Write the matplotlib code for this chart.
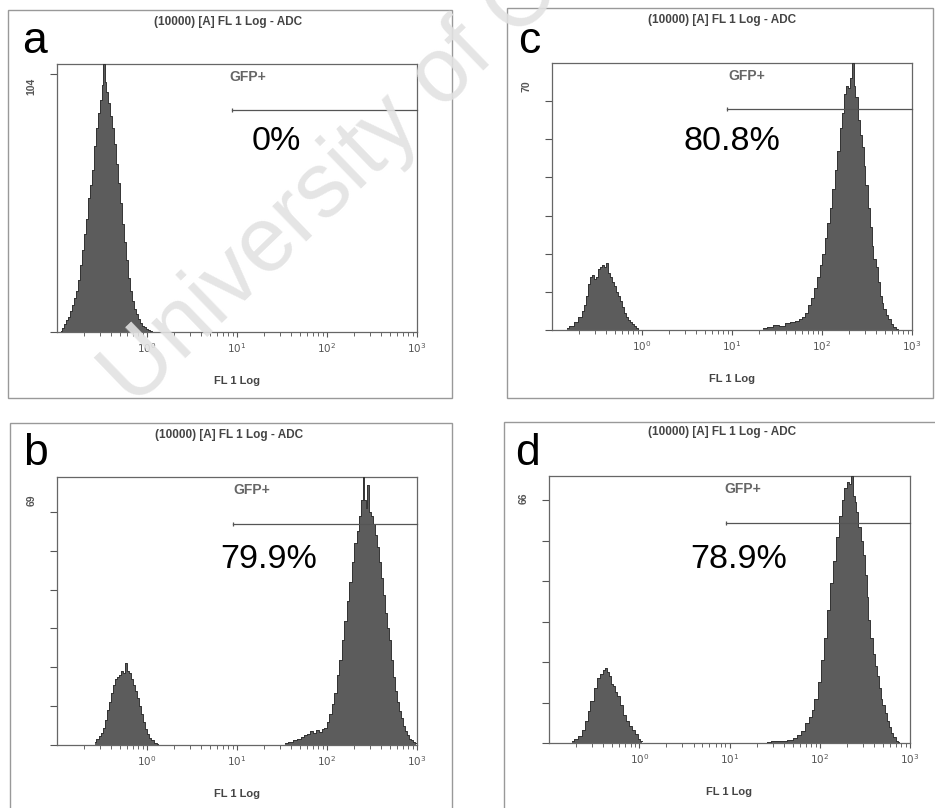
import numpy as np
import matplotlib
matplotlib.use('Agg')
import matplotlib.pyplot as plt
from matplotlib.patches import Rectangle
from matplotlib.ticker import FixedLocator, LogLocator, NullFormatter

plt.rcParams['font.family'] = ['Liberation Sans', 'DejaVu Sans']

# ---- histogram data (log10 FL1 channel, event count) ----
a_neg_log = [-0.956, -0.933, -0.911, -0.889, -0.867, -0.844, -0.822, -0.800, -0.778, -0.756,
             -0.733, -0.711, -0.689, -0.667, -0.644, -0.622, -0.600, -0.578, -0.556, -0.533,
             -0.511, -0.494, -0.478, -0.461, -0.444, -0.422, -0.400, -0.378, -0.356, -0.333,
             -0.311, -0.289, -0.267, -0.244, -0.222, -0.200, -0.178, -0.156, -0.133, -0.111,
             -0.089, -0.067, -0.044, -0.022, 0.000, 0.022, 0.044, 0.067]
a_neg_count = [0.5, 1.5, 3, 4.5, 6, 8, 10.5, 13, 16, 20,
               26, 32, 38, 44, 52, 57, 63, 72, 79, 85,
               90, 96, 104, 97, 93, 89, 84, 79, 73, 65,
               58, 50, 42, 35, 28, 21, 16, 12, 9, 7,
               5, 3.5, 2.5, 2, 1.2, 0.6, 0.3, 0]

b_neg_log = [-0.578, -0.550, -0.522, -0.500, -0.478, -0.456, -0.433, -0.411, -0.389, -0.367,
             -0.344, -0.322, -0.300, -0.278, -0.256, -0.233, -0.211, -0.189, -0.167, -0.144,
             -0.122, -0.100, -0.078, -0.056, -0.033, -0.011, 0.011, 0.033, 0.056, 0.089, 0.122]
b_neg_count = [0.8, 1.5, 2.2, 3, 4.5, 6.5, 9, 11, 13.5, 15.5,
               17, 17.5, 18, 19, 18.5, 21, 19, 18.5, 17, 15.5,
               14, 12, 10, 8, 6, 4, 2.8, 1.8, 1.2, 0.6, 0.3]
b_pos_log = [1.533, 1.589, 1.644, 1.689, 1.722, 1.756, 1.789, 1.822, 1.856, 1.889,
             1.922, 1.956, 1.983, 2.011, 2.039, 2.067, 2.094, 2.122, 2.150, 2.178,
             2.206, 2.233, 2.261, 2.289, 2.317, 2.344, 2.367, 2.389, 2.406, 2.422,
             2.439, 2.458, 2.478, 2.500, 2.522, 2.544, 2.567, 2.589, 2.611, 2.633,
             2.656, 2.678, 2.700, 2.722, 2.744, 2.767, 2.789, 2.811, 2.833, 2.856,
             2.878, 2.900, 2.922, 2.944, 2.967, 2.994]
b_pos_count = [0.4, 0.8, 1.2, 1.6, 2.0, 2.5, 2.9, 3.6, 3.0, 3.8,
               3.3, 4.1, 4.5, 5.8, 8, 10.5, 13.5, 18, 22, 27,
               32, 37, 42, 47, 52, 55, 59, 63, 69, 63,
               61, 67, 60, 59, 57, 54, 51, 47, 43, 38.5,
               34, 30, 27, 22, 17.5, 14, 11, 8.8, 7, 5,
               3.5, 2.5, 1.6, 1.2, 0.9, 0.6]

c_neg_log = [-0.837, -0.778, -0.733, -0.689, -0.656, -0.633, -0.611, -0.589, -0.567, -0.544,
             -0.522, -0.500, -0.478, -0.456, -0.433, -0.411, -0.389, -0.367, -0.344, -0.322,
             -0.300, -0.278, -0.256, -0.233, -0.211, -0.189, -0.167, -0.144, -0.122, -0.100,
             -0.078, -0.056, -0.033]
c_neg_count = [0.5, 1, 2, 3.5, 5, 6.5, 9, 12, 14, 14.5,
               13.5, 14, 16, 16.5, 17, 16.5, 17.5, 15, 14, 12.5,
               11.5, 10, 9, 7.5, 6, 4.5, 3.5, 2.5, 2, 1.5,
               1, 0.5, 0]
c_pos_log = [1.344, 1.422, 1.489, 1.556, 1.611, 1.667, 1.722, 1.756, 1.789, 1.822,
             1.856, 1.889, 1.922, 1.956, 1.989, 2.017, 2.044, 2.072, 2.100, 2.128,
             2.156, 2.183, 2.211, 2.233, 2.256, 2.278, 2.300, 2.322, 2.341, 2.361,
             2.383, 2.406, 2.428, 2.450, 2.472, 2.494, 2.517, 2.539, 2.561, 2.583,
             2.606, 2.628, 2.650, 2.672, 2.694, 2.722, 2.750, 2.778, 2.806, 2.833, 2.856]
c_pos_count = [0.5, 0.8, 1.2, 1.0, 1.8, 2.0, 2.4, 3.0, 3.5, 4.5,
               6.5, 8.5, 11, 14, 17, 20, 24, 28, 32, 37,
               42, 47, 53, 57, 62, 64, 63.5, 66, 70, 64,
               61, 55, 51, 48, 43, 38, 32, 27, 22, 18.5,
               16.5, 12.5, 9, 7, 5.5, 4, 2.8, 1.6, 0.8, 0.3, 0]

d_neg_log = [-0.745, -0.701, -0.657, -0.623, -0.590, -0.557, -0.524, -0.490, -0.457, -0.424,
             -0.391, -0.368, -0.346, -0.324, -0.302, -0.280, -0.258, -0.235, -0.202, -0.169,
             -0.136, -0.102, -0.069, -0.036, -0.003, 0.030]
d_neg_count = [0.4, 1.0, 1.8, 3.2, 5.5, 8, 10.5, 13.5, 16, 17,
               18, 18.6, 17.5, 16.5, 14.5, 14, 12.5, 11.5, 9.5, 7,
               5.5, 4.3, 3.2, 2.2, 1.0, 0.4]
d_pos_log = [1.416, 1.504, 1.593, 1.670, 1.726, 1.770, 1.814, 1.859, 1.892, 1.925,
             1.958, 1.992, 2.025, 2.058, 2.091, 2.125, 2.158, 2.191, 2.224, 2.258,
             2.285, 2.313, 2.335, 2.354, 2.374, 2.396, 2.418, 2.440, 2.463, 2.485,
             2.507, 2.529, 2.551, 2.573, 2.596, 2.618, 2.640, 2.662, 2.684, 2.706,
             2.729, 2.751, 2.773, 2.801, 2.828, 2.856, 2.878]
d_pos_count = [0.3, 0.4, 0.5, 0.7, 1.2, 2.0, 3.0, 5.0, 6.5, 8.2,
               11, 15, 20.5, 26, 33, 39.5, 45, 51, 56, 60,
               63, 64.5, 64, 66, 61, 59.5, 57, 53.5, 50, 46.5,
               41.5, 36, 30.5, 26, 22, 19, 16.5, 13.5, 11, 9.5,
               7.5, 5.5, 4, 2.5, 1.4, 0.6, 0.2]

# ---- per panel annotations, order a, b, c, d ----
panel_letters = ['a', 'b', 'c', 'd']
panel_peaks = [[(a_neg_log, a_neg_count)],
               [(b_neg_log, b_neg_count), (b_pos_log, b_pos_count)],
               [(c_neg_log, c_neg_count), (c_pos_log, c_pos_count)],
               [(d_neg_log, d_neg_count), (d_pos_log, d_pos_count)]]
panel_ymax = [104, 69, 70, 66]
panel_ystep = [100, 10, 10, 10]
panel_percent = ['0%', '79.9%', '80.8%', '78.9%']
gate_start = [8.8, 8.95, 8.73, 9.08]
gate_height = [86, 57, 58, 54.5]
x_ticks = [1, 10, 100, 1000]
x_ticklabels = ['$10^0$', '$10^1$', '$10^2$', '$10^3$']

# ---- layout in pixels of the 935x808 canvas ----
W, H = 935, 808
axes_px = [(57, 64, 417, 332), (57, 477, 417, 745), (552, 63, 912, 330), (549, 476, 910, 743)]
frame_px = [(8, 10, 452, 398), (10, 423, 452, 812), (507, 8, 933, 398), (504, 422, 940, 812)]
letter_px = [(22, 53), (23, 465), (518, 53), (515, 465)]
title_px = [(228, 22), (229, 435), (722, 20), (722, 432)]
gfp_x = [0.53, 0.541, 0.541, 0.538]
pct_x = [0.608, 0.589, 0.499, 0.526]
pct_base = [0.679, 0.659, 0.674, 0.654]

fig = plt.figure(figsize=(W / 100, H / 100), dpi=100)
fig.patch.set_facecolor('white')

for i in range(4):
    l, t, r, b = axes_px[i]
    ax = fig.add_axes([l / W, 1 - b / H, (r - l) / W, (b - t) / H])
    ymax = panel_ymax[i]

    for logs, counts in panel_peaks[i]:
        x = 10 ** np.asarray(logs)
        y = np.asarray(counts)
        ax.fill_between(x, y, step='mid', facecolor='#5c5c5c', edgecolor='none', zorder=2)
        ax.plot(x, y, drawstyle='steps-mid', color='#333333', lw=0.7, zorder=3)

    ax.set_xscale('log')
    ax.set_xlim(0.1, 1000)
    ax.set_ylim(0, ymax)
    for s in ax.spines.values():
        s.set_color('#666666')
        s.set_linewidth(0.9)

    ax.xaxis.set_major_locator(FixedLocator(x_ticks))
    ax.set_xticklabels(x_ticklabels)
    ax.xaxis.set_minor_locator(LogLocator(base=10, subs=range(2, 10)))
    ax.xaxis.set_minor_formatter(NullFormatter())
    ax.tick_params(axis='x', which='major', direction='out', length=3.5, width=0.8,
                   color='#555555', labelcolor='#555555', labelsize=7.5, pad=3)
    ax.tick_params(axis='x', which='minor', direction='out', length=2.8, width=0.7,
                   color='#666666')
    ax.set_yticks(np.arange(0, ymax, panel_ystep[i]))
    ax.set_yticklabels([])
    ax.tick_params(axis='y', direction='out', length=5, width=0.8, color='#555555')

    ax.text(-0.07, 0.915, str(ymax), transform=ax.transAxes, rotation=90,
            ha='center', va='center', fontsize=7.5, fontweight='bold', color='#555555')

    # GFP+ gate
    ax.plot([gate_start[i], 1000], [gate_height[i], gate_height[i]],
            color='#555555', lw=0.9, clip_on=False, zorder=4)
    ax.plot([gate_start[i]], [gate_height[i]], marker='|', ms=3.5, mew=0.9,
            color='#555555', zorder=4)
    ax.text(gfp_x[i], 0.95, 'GFP+', transform=ax.transAxes, ha='center', va='center',
            fontsize=10, fontweight='bold', color='#666666')
    ax.text(pct_x[i], pct_base[i], panel_percent[i], transform=ax.transAxes,
            ha='center', va='baseline', fontsize=24.5, color='black')
    ax.text(0.5, -49 / (b - t), 'FL 1 Log', transform=ax.transAxes, ha='center',
            va='center', fontsize=8, fontweight='bold', color='#444444')

    fl, ft, fr, fb = frame_px[i]
    fig.add_artist(Rectangle((fl / W, 1 - fb / H), (fr - fl) / W, (fb - ft) / H,
                             transform=fig.transFigure, fill=False,
                             edgecolor='#999999', lw=1.0))
    fig.text(title_px[i][0] / W, 1 - title_px[i][1] / H, '(10000) [A] FL 1 Log - ADC',
             ha='center', va='center', fontsize=8.5, fontweight='bold', color='#444444')
    fig.text(letter_px[i][0] / W, 1 - letter_px[i][1] / H, panel_letters[i],
             ha='left', va='baseline', fontsize=32, color='black')

# repository watermark, cut by the top edge as in the source
fig.text(134 / W, 1 - 408 / H, 'University of C', rotation=44, rotation_mode='anchor',
         ha='left', va='baseline', fontsize=66, color='#e2e2e2', alpha=0.9, zorder=10)

fig.savefig('out.png', dpi=100, facecolor='white')
